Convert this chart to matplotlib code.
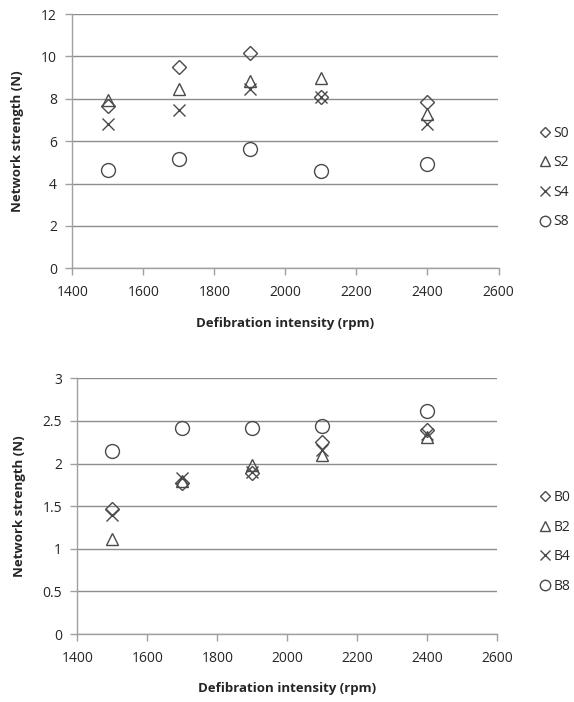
import matplotlib
matplotlib.use("Agg")
import matplotlib.pyplot as plt
from matplotlib.lines import Line2D

plt.rcParams['font.family'] = ['Open Sans', 'DejaVu Sans']

rpm = [1500, 1700, 1900, 2100, 2400]

s_labels = ["S0", "S2", "S4", "S8"]
S0 = [7.65, 9.5, 10.16, 8.1, 7.85]
S2 = [7.92, 8.48, 8.82, 8.98, 7.3]
S4 = [6.82, 7.48, 8.48, 8.1, 6.8]
S8 = [4.65, 5.17, 5.61, 4.61, 4.93]

b_labels = ["B0", "B2", "B4", "B8"]
B0 = [1.47, 1.77, 1.89, 2.25, 2.39]
B2 = [1.11, 1.79, 1.98, 2.1, 2.31]
B4 = [1.4, 1.83, 1.9, 2.16, 2.35]
B8 = [2.15, 2.42, 2.42, 2.44, 2.62]

x_ticks = [1400, 1600, 1800, 2000, 2200, 2400, 2600]
top_yticks = [0, 2, 4, 6, 8, 10, 12]
bot_yticks = [0, 0.5, 1, 1.5, 2, 2.5, 3]
bot_yticklabels = ["0", "0.5", "1", "1.5", "2", "2.5", "3"]

markers = ['D', '^', 'x', 'o']
msizes = [7, 9, 9, 10]
mcolor = '#4a4a4a'
gridc = '#8c8c8c'
textc = '#262626'

fig = plt.figure(figsize=(5.74, 7.02), dpi=100)
ax1 = fig.add_axes([72.3/574, 1-268.3/702, (498.5-72.3)/574, (268.3-14)/702])
ax2 = fig.add_axes([77.3/574, 1-634/702, (497.3-77.3)/574, (634-378.3)/702])

def style(ax, yticks, ylabels, ymax):
    ax.set_xlim(1400, 2600)
    ax.set_ylim(0, ymax)
    ax.set_xticks(x_ticks)
    ax.set_yticks(yticks)
    ax.set_yticklabels(ylabels)
    ax.yaxis.grid(True, color=gridc, linewidth=1.0)
    ax.set_axisbelow(True)
    for s in ['top', 'right']:
        ax.spines[s].set_visible(False)
    for s in ['left', 'bottom']:
        ax.spines[s].set_color('#a0a0a0')
        ax.spines[s].set_linewidth(1.0)
    ax.tick_params(axis='both', colors='#a0a0a0', labelcolor=textc,
                   labelsize=10, length=5, width=1)
    ax.tick_params(axis='x', pad=7)
    ax.tick_params(axis='y', pad=6)
    ax.set_xlabel("Defibration intensity (rpm)", fontsize=9.5, fontweight='bold',
                  color=textc, labelpad=12)
    ax.set_ylabel("Network strength (N)", fontsize=9.5, fontweight='bold',
                  color=textc, labelpad=12)

def draw(ax, series, labels, ycenter):
    handles = []
    for vals, lab, m, ms in zip(series, labels, markers, msizes):
        ax.plot(rpm, vals, linestyle='none', marker=m, markersize=ms,
                markerfacecolor='none', markeredgecolor=mcolor,
                markeredgewidth=1.0, clip_on=False)
        handles.append(Line2D([], [], linestyle='none', marker=m, markersize=ms*0.75,
                              markerfacecolor='none', markeredgecolor=mcolor,
                              markeredgewidth=1.0, label=lab))
    fig.legend(handles=handles, loc='center left',
               bbox_to_anchor=(532/574, 1-ycenter/702), frameon=False,
               fontsize=10, handlelength=0.8, handletextpad=0.25,
               labelspacing=1.05, borderpad=0, labelcolor=textc)

style(ax1, top_yticks, [str(v) for v in top_yticks], 12)
draw(ax1, [S0, S2, S4, S8], s_labels, 177.5)
style(ax2, bot_yticks, bot_yticklabels, 3)
draw(ax2, [B0, B2, B4, B8], b_labels, 542)

fig.savefig("out.png", dpi=100)
